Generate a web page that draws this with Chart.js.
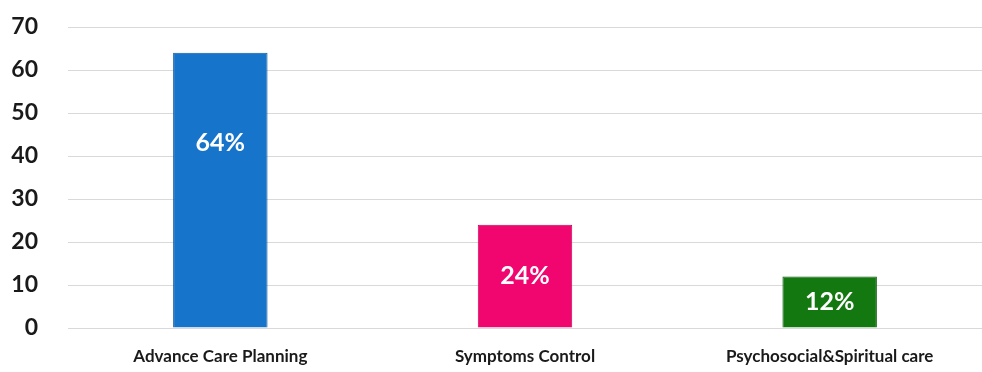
<!DOCTYPE html>
<html>
<head>
<meta charset="utf-8">
<script src="https://cdn.jsdelivr.net/npm/chart.js@4"></script>
<style>
  html, body { margin: 0; padding: 0; background: #fff; }
  #wrap { width: 982px; height: 372px; position: relative; }
</style>
</head>
<body>
<div id="wrap"><canvas id="grafic"></canvas></div>
<script>
// data
const categories = ["Advance Care Planning", "Symptoms Control", "Psychosocial&Spiritual care"];
const percentages = [64, 24, 12];
const yTicks = [0, 10, 20, 30, 40, 50, 60, 70];

const barColors = ['#1674ca', '#f0066e', '#13780f'];
const barBorders = ['#0f5a9e', '#c20458', '#0c5a0a'];

// labels inside the bars: near the top of tall bars, centred on short ones
const labelInside = {
  id: 'labelInside',
  afterDatasetsDraw(chart) {
    const ctx = chart.ctx;
    const meta = chart.getDatasetMeta(0);
    const y = chart.scales.y;
    ctx.save();
    ctx.font = 'bold 25px Lato';
    ctx.fillStyle = '#ffffff';
    ctx.textAlign = 'center';
    ctx.textBaseline = 'middle';
    meta.data.forEach((bar, i) => {
      const v = percentages[i];
      const pos = Math.max(v / 2, v - 21);
      ctx.fillText(v + '%', bar.x, y.getPixelForValue(pos));
    });
    ctx.restore();
  }
};

new Chart(document.getElementById('grafic'), {
  type: 'bar',
  data: {
    labels: categories,
    datasets: [{
      data: percentages,
      backgroundColor: barColors,
      borderColor: barBorders,
      borderWidth: 1,
      barPercentage: 0.31,
      categoryPercentage: 1
    }]
  },
  options: {
    responsive: true,
    maintainAspectRatio: false,
    animation: false,
    layout: { padding: { top: 27, right: 0, left: 0, bottom: 0 } },
    plugins: { legend: { display: false }, tooltip: { enabled: false } },
    scales: {
      y: {
        min: 0, max: 70,
        afterBuildTicks: s => { s.ticks = yTicks.map(v => ({ value: v })); },
        // the tick padding would otherwise push the plot down
        afterFit: s => { s.width = 68; s.paddingTop = 0; s.paddingBottom = 0; },
        border: { display: false },
        grid: { color: '#d9d9d9', drawTicks: false, lineWidth: 1 },
        ticks: { padding: 30, color: '#1a1a1a', font: { family: 'Lato', size: 23, weight: 'bold' } }
      },
      x: {
        afterFit: s => { s.height = 44; },
        border: { display: false },
        grid: { display: false, drawTicks: false },
        ticks: { padding: 18, color: '#1a1a1a', maxRotation: 0, font: { family: 'Lato', size: 17, weight: 'bold' } }
      }
    }
  },
  plugins: [labelInside]
});
</script>
</body>
</html>
